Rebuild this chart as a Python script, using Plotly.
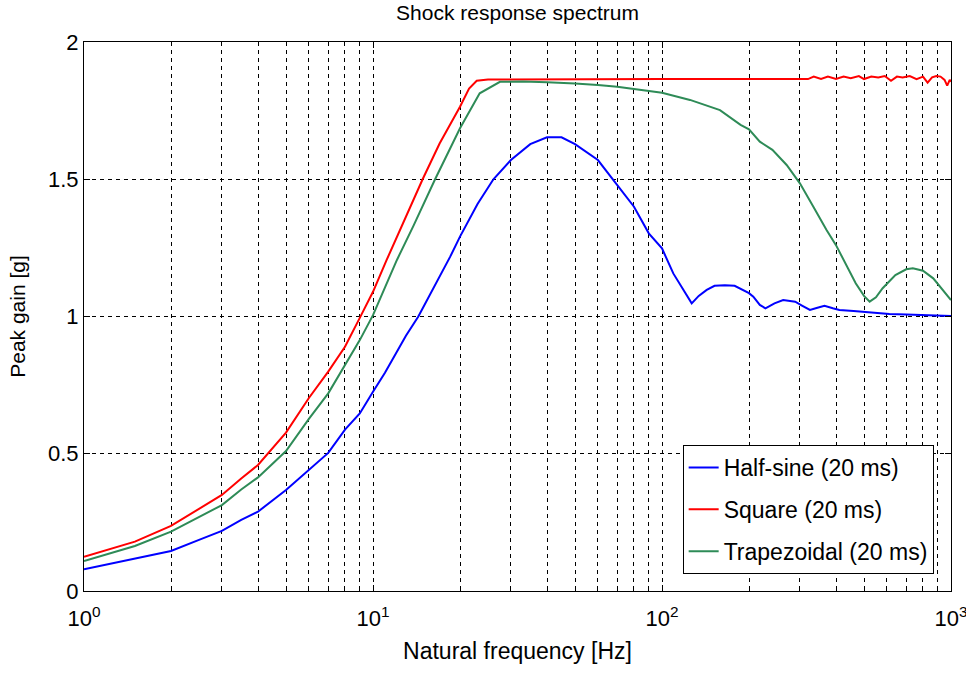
import plotly.graph_objects as go

# Half-sine (20 ms)
half_f = [1, 1.5, 2, 2.5, 3, 3.5, 4, 5, 6, 7, 8, 9, 10, 11, 12, 13, 14.35, 16.5, 18.5, 20, 23, 26.1, 30, 35, 40, 44.9,
          50, 60, 70, 80, 90, 100, 109.4, 118, 126.7, 134, 142.8, 152, 165, 178.4, 190, 200, 207, 218, 228, 245,
          262.6, 289, 305, 325, 345, 365, 390, 411, 460, 523, 612, 700, 820, 1000]
half_v = [0.079, 0.119, 0.146, 0.186, 0.219, 0.259, 0.289, 0.368, 0.443, 0.503, 0.588, 0.647, 0.726, 0.795, 0.865,
          0.93, 1.0, 1.12, 1.218, 1.291, 1.41, 1.5, 1.570, 1.628, 1.653, 1.653,
          1.628, 1.570, 1.479, 1.400, 1.303, 1.248, 1.157, 1.10, 1.048, 1.075, 1.097, 1.112, 1.114, 1.112, 1.098, 1.085,
          1.072, 1.042, 1.030, 1.048, 1.060, 1.054, 1.040, 1.024, 1.032, 1.039, 1.030, 1.024, 1.020, 1.015, 1.009,
          1.007, 1.005, 1.002]

# Square (20 ms)
square_f = [1, 1.5, 2, 2.5, 3, 3.5, 4, 5, 6, 7, 8, 9, 10, 11.15, 12.4, 14.85, 17, 20, 21.5, 22.85, 25, 50, 100,
            200, 320, 335, 355, 375, 400, 425, 450, 480, 500, 530, 560, 590, 620, 650, 680, 720, 760, 800, 830,
            860, 890, 920, 950, 970, 990, 1000]
square_v = [0.125, 0.180, 0.237, 0.298, 0.350, 0.410, 0.459, 0.577, 0.703, 0.799, 0.890, 0.995, 1.09, 1.206, 1.315,
            1.5, 1.63, 1.764, 1.83, 1.859, 1.863, 1.865, 1.865,
            1.865, 1.865, 1.874, 1.865, 1.874, 1.865, 1.874, 1.868, 1.876, 1.865, 1.874, 1.871, 1.876, 1.859,
            1.874, 1.871, 1.876, 1.865, 1.874, 1.852, 1.871, 1.876, 1.874, 1.862, 1.841, 1.862, 1.855]

# Trapezoidal (20 ms)
trap_f = [1, 1.5, 2, 2.5, 3, 3.5, 4, 5, 6, 7, 8, 9, 10, 12.1, 13.8, 16.4, 20, 23.4, 27.5, 33, 40, 50, 60, 70, 80,
          90, 100, 125, 158.7, 187, 200, 218, 241, 270, 300, 334, 371, 400, 434, 468, 500, 523, 550, 580, 642,
          700, 738, 800, 868, 930, 1000]
trap_v = [0.109, 0.164, 0.216, 0.271, 0.313, 0.370, 0.414, 0.510, 0.627, 0.720, 0.823, 0.914, 1.005, 1.206, 1.33,
          1.5, 1.686, 1.813, 1.855, 1.856, 1.853, 1.849, 1.843, 1.837, 1.829,
          1.823, 1.815, 1.789, 1.752, 1.698, 1.682, 1.637, 1.607, 1.552, 1.485, 1.400, 1.315, 1.26, 1.188, 1.121,
          1.075, 1.054, 1.07, 1.103, 1.151, 1.172, 1.176, 1.167, 1.139, 1.10, 1.060]

series_names = ["Half-sine (20 ms)", "Square (20 ms)", "Trapezoidal (20 ms)"]
series_colors = ["#0000ff", "#ff0000", "#2e8b57"]

x_tickvals = [1, 10, 100, 1000]
x_ticktext = ["10<sup>0</sup>", "10<sup>1</sup>", "10<sup>2</sup>", "10<sup>3</sup>"]
y_tickvals = [0, 0.5, 1, 1.5, 2]
y_ticktext = ["0", "0.5", "1", "1.5", "2"]

FONT = "Liberation Sans, Arial, sans-serif"

fig = go.Figure()
for i, (f, v, name, col) in enumerate(zip([half_f, square_f, trap_f], [half_v, square_v, trap_v],
                                          series_names, series_colors)):
    fig.add_trace(go.Scatter(x=f, y=v, mode="lines", name=name, legendgroup=f"g{i}",
                             line=dict(color=col, width=2)))

fig.update_layout(
    width=966, height=674,
    margin=dict(l=84, r=15, t=42, b=83),
    paper_bgcolor="white", plot_bgcolor="white",
    font=dict(family=FONT, color="black"),
    title=dict(text="Shock response spectrum", x=(84 + 951) / 2 / 966, xanchor="center",
               y=1 - 13 / 674, yanchor="middle", font=dict(size=21, family=FONT)),
    showlegend=True,
    legend=dict(x=0.98, y=0.031, xanchor="right", yanchor="bottom",
                bgcolor="white", bordercolor="black", borderwidth=1,
                font=dict(size=23, family=FONT), tracegroupgap=9,
                entrywidth=270, entrywidthmode="pixels"),
)

fig.update_xaxes(
    type="log", range=[0, 3], automargin=False,
    tickvals=x_tickvals, ticktext=x_ticktext, tickfont=dict(size=22),
    ticklabeloverflow="allow", ticklabelstandoff=8,
    ticks="inside", ticklen=6, tickcolor="black",
    showline=True, linecolor="black", linewidth=1, mirror="allticks",
    showgrid=True, gridcolor="black", gridwidth=1, griddash="4px,4px",
    minor=dict(ticks="inside", ticklen=4, tickcolor="black", showgrid=True,
               gridcolor="black", gridwidth=1, griddash="4px,4px", dtick="D1"),
    title=dict(text="Natural frequency [Hz]", font=dict(size=23), standoff=12),
    zeroline=False,
)
fig.update_yaxes(
    range=[0, 2], automargin=False,
    tickvals=y_tickvals, ticktext=y_ticktext, tickfont=dict(size=22),
    ticks="inside", ticklen=6, tickcolor="black",
    showline=True, linecolor="black", linewidth=1, mirror="allticks",
    showgrid=True, gridcolor="black", gridwidth=1, griddash="4px,4px",
    title=dict(text="Peak gain [g]", font=dict(size=21), standoff=16),
    zeroline=False,
)

fig.write_html("out.html")
